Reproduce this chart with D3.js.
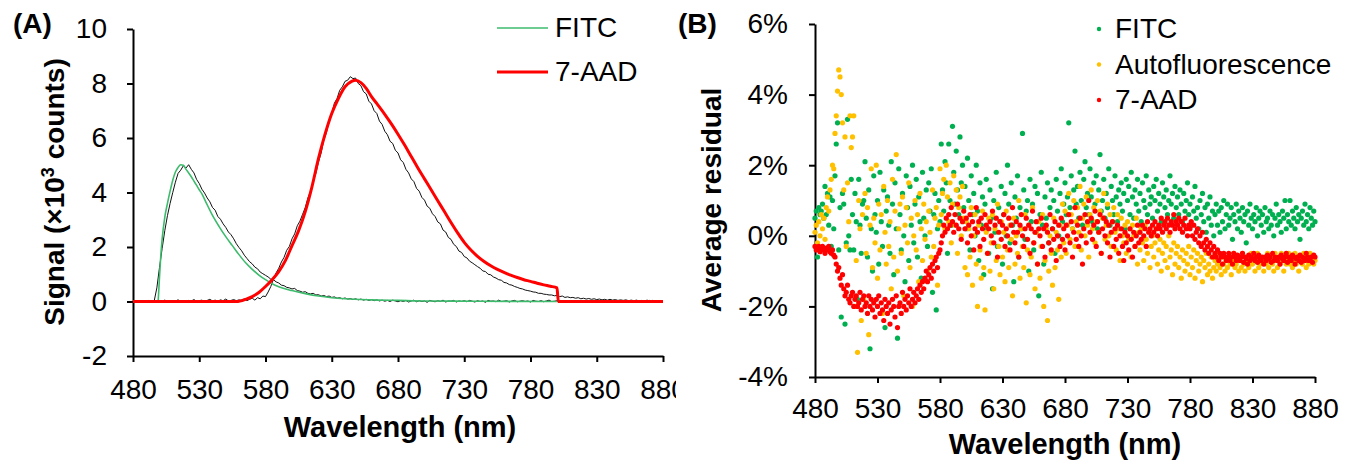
<!DOCTYPE html>
<html>
<head>
<meta charset="utf-8">
<script src="https://cdn.jsdelivr.net/npm/d3@7"></script>
<style>
  body { margin: 0; background: #fff; }
  text { font-family: "Liberation Sans", Arial, sans-serif; fill: #000; }
</style>
</head>
<body>
<div id="chart-area"></div>
<script>
// ---------- data, panel A (signal, x10^3 counts) ----------
// measured spectra, 2 nm steps from 480 to 880
let measStep = 2;
let fitcMeasured = [
  0.01, -0.02, 0.02, 0.0, -0.01, 0.03, -0.02, 0.01, 0.02, 0.5,
  1.25, 1.95, 2.6, 3.15, 3.6, 4.0, 4.38, 4.7, 4.82, 4.98,
  4.9, 5.02, 4.85, 4.72, 4.48, 4.33, 4.12, 3.98, 3.8, 3.66,
  3.45, 3.35, 3.12, 3.02, 2.85, 2.72, 2.55, 2.45, 2.3, 2.12,
  1.98, 1.86, 1.7, 1.58, 1.46, 1.38, 1.26, 1.2, 1.08, 1.02,
  0.96, 0.9, 0.82, 0.8, 0.72, 0.68, 0.6, 0.58, 0.52, 0.5,
  0.46, 0.48, 0.4, 0.38, 0.34, 0.36, 0.3, 0.28, 0.3, 0.24,
  0.25, 0.2, 0.22, 0.18, 0.2, 0.15, 0.17, 0.12, 0.14, 0.1,
  0.13, 0.09, 0.11, 0.07, 0.1, 0.06, 0.09, 0.05, 0.08, 0.04,
  0.07, 0.03, 0.06, 0.02, 0.05, 0.01, 0.04, 0.0, 0.05, 0.02,
  -0.01, 0.03, 0.0, 0.04, -0.02, 0.02, 0.05, -0.01, 0.03, 0.0,
  0.02, -0.03, 0.04, 0.01, -0.01, 0.03, 0.0, 0.05, -0.02, 0.02,
  0.01, 0.04, -0.02, 0.02, 0.0, 0.03, -0.01, 0.04, 0.01, -0.02,
  0.03, 0.0, 0.02, -0.03, 0.04, 0.01, 0.02, -0.01, 0.05, 0.0,
  0.01, 0.03, -0.02, 0.02, 0.04, -0.01, 0.01, 0.03, 0.0, 0.02,
  -0.02, 0.04, 0.01, 0.0, 0.03, -0.01, 0.02, 0.05, 0.0, 0.01,
  0.03, -0.01, 0.02, 0.04, 0.0, 0.02, -0.02, 0.03, 0.01, 0.0,
  0.02, 0.04, -0.01, 0.01, 0.03, 0.0, 0.02, -0.02, 0.04, 0.01,
  0.0, 0.03, 0.01, -0.01, 0.02, 0.04, 0.0, 0.02, -0.02, 0.03,
  0.01, 0.0, 0.03, -0.01, 0.02, 0.04, 0.01, 0.0, 0.02, -0.01,
  0.02
];
let aadMeasured = [
  0.02, 0.0, 0.03, 0.01, -0.01, 0.02, 0.04, 0.0, 0.01, 0.03,
  -0.01, 0.02, 0.05, 0.01, 0.03, 0.0, 0.02, 0.06, 0.01, 0.03,
  0.0, 0.04, 0.02, 0.07, 0.01, 0.03, 0.05, 0.0, 0.04, 0.08,
  0.02, 0.05, 0.01, 0.06, 0.03, 0.09, 0.02, 0.04, 0.07, 0.03,
  0.06, 0.04, 0.1, 0.03, 0.08, 0.12, 0.05, 0.14, 0.1, 0.2,
  0.18, 0.35, 0.55, 0.82, 1.05, 1.22, 1.45, 1.62, 1.88, 2.02,
  2.3, 2.48, 2.78, 2.95, 3.2, 3.45, 3.8, 4.05, 4.4, 4.7,
  5.12, 5.45, 5.92, 6.2, 6.62, 6.9, 7.28, 7.45, 7.75, 7.88,
  8.08, 8.12, 8.25, 8.18, 8.2, 8.0, 7.92, 7.7, 7.62, 7.35,
  7.25, 7.0, 6.9, 6.62, 6.5, 6.25, 6.12, 5.88, 5.8, 5.55,
  5.45, 5.2, 5.1, 4.85, 4.72, 4.5, 4.4, 4.15, 4.05, 3.82,
  3.72, 3.5, 3.42, 3.22, 3.12, 2.92, 2.85, 2.62, 2.55, 2.35,
  2.28, 2.1, 2.02, 1.85, 1.8, 1.65, 1.6, 1.48, 1.42, 1.35,
  1.28, 1.22, 1.12, 1.1, 1.0, 0.98, 0.9, 0.86, 0.8, 0.78,
  0.7, 0.68, 0.62, 0.6, 0.55, 0.52, 0.48, 0.46, 0.42, 0.4,
  0.38, 0.35, 0.34, 0.3, 0.3, 0.27, 0.26, 0.24, 0.24, 0.21,
  0.22, 0.18, 0.2, 0.15, 0.17, 0.14, 0.15, 0.12, 0.14, 0.1,
  0.12, 0.09, 0.11, 0.08, 0.1, 0.07, 0.09, 0.06, 0.08, 0.05,
  0.08, 0.05, 0.07, 0.04, 0.06, 0.04, 0.06, 0.03, 0.05, 0.03,
  0.05, 0.02, 0.04, 0.02, 0.05, 0.01, 0.04, 0.02, 0.03, 0.01,
  0.03
];

// fitted reference spectra
let fitcFitWl = [499, 500, 501, 502, 504, 506, 508, 510, 512, 514, 516, 518,
  520, 522, 524, 526, 528, 530, 532, 535, 540, 545, 550, 555, 560, 565, 570,
  575, 580, 585, 590, 600, 610, 620, 630, 640, 660, 680, 700, 740, 800];
let fitcFitVal = [0, 0.9, 1.7, 2.3, 3.1, 3.6, 4.05, 4.45, 4.75, 4.92, 5.02, 5.0,
  4.85, 4.72, 4.58, 4.42, 4.26, 4.1, 3.95, 3.65, 3.16, 2.75, 2.38, 2.05, 1.72, 1.42, 1.18,
  0.97, 0.8, 0.65, 0.54, 0.4, 0.29, 0.2, 0.14, 0.1, 0.06, 0.04, 0.02, 0.01, 0.0];
let aadFitWl = [480, 558, 565, 570, 575, 580, 585, 590, 595, 600, 605, 610, 615,
  620, 625, 630, 635, 640, 645, 648, 652, 656, 660, 665, 670, 675, 680, 685, 690,
  695, 700, 705, 710, 715, 720, 725, 730, 735, 740, 745, 750, 755, 760, 765, 770,
  775, 780, 785, 790, 795, 800, 801, 880];
let aadFitVal = [0, 0, 0.08, 0.18, 0.33, 0.55, 0.8, 1.1, 1.5, 2.05, 2.6, 3.3, 4.2,
  5.25, 6.15, 6.9, 7.45, 7.88, 8.08, 8.12, 8.03, 7.82, 7.52, 7.2, 6.87, 6.52, 6.14, 5.74, 5.32,
  4.9, 4.5, 4.1, 3.7, 3.3, 2.9, 2.52, 2.17, 1.89, 1.66, 1.47, 1.31, 1.18, 1.07, 0.97, 0.88,
  0.8, 0.74, 0.67, 0.61, 0.56, 0.5, 0, 0];

// ---------- data, panel B (average residual, %) ----------
// one value per nm from 480 to 880
let residFitc = [
  0.5, 0.7, -0.6, 0.8, 0.6, 0.7, 0.9, 0.5, 1.4, 0.6,
  1.2, 0.3, 1.1, -0.3, 1.0, 0.2, 1.7, 2.6, 3.2, -0.4,
  0.8, -2.3, 1.2, 0.9, -2.5, -0.2, 3.3, 0.0, -0.4, 1.6,
  0.6, -0.4, 1.2, 0.4, -1.8, 1.6, 0.3, -0.5, 0.9, 1.0,
  2.1, 0.5, -0.6, 1.3, -3.2, 0.2, -1.0, 1.7, 0.6, 0.1,
  1.0, -0.8, 1.8, 0.4, -0.3, 1.3, -2.6, 0.7, 1.1, 0.3,
  -0.5, 2.1, 0.9, -1.1, 1.5, 0.2, -2.9, 1.9, 0.6, -0.4,
  1.2, 0.0, -1.3, 1.7, 0.8, -0.7, 1.4, 0.3, 2.0, -0.2,
  0.9, 1.6, -0.6, 1.1, 0.4, -1.2, 1.8, 0.5, 0.0, 1.3,
  -0.3, 1.5, 0.7, 1.9, -1.6, 0.6, 1.2, -2.1, 0.2, 1.0,
  0.4, 2.6, 1.3, 0.7, 2.1, 1.5, -0.5, 2.6, 1.0, 0.3,
  3.1, 1.8, 0.9, 2.4, 1.3, 0.6, 2.8, 1.5, 2.0, 0.8,
  1.4, 0.2, 2.2, 1.0, -0.4, 1.7, 0.6, 1.2, 0.0, 2.0,
  0.7, -0.7, 1.5, 0.3, 1.1, -1.1, 0.9, 1.6, 0.2, -0.5,
  1.3, 0.5, -1.5, 1.0, 0.1, 1.8, -0.3, 0.8, 0.4, 1.4,
  -0.8, 0.6, 1.2, 0.0, 2.0, 0.9, -0.2, 1.5, 0.3, -1.3,
  1.1, 0.5, 1.7, -0.6, 0.8, 0.2, 2.9, 1.3, -0.1, 0.7,
  1.0, -1.0, 1.6, 0.4, 0.9, -0.4, 1.4, 0.1, 1.2, -1.7,
  0.6, 1.8, 0.3, -0.8, 1.1, 0.5, 1.5, -0.2, 0.8, 1.3,
  0.2, 1.0, -0.5, 1.6, 0.7, 0.0, 1.2, 1.9, 0.4, 0.9,
  1.5, 0.6, 1.1, 3.2, 0.8, 1.7, 0.2, 1.3, 2.4, 0.9,
  1.4, 0.5, 1.8, 1.0, 0.3, 1.6, 2.1, 0.8, 1.2, 0.6,
  1.9, 1.1, 0.4, 1.5, 0.9, 1.7, 0.2, 1.3, 2.3, 0.7,
  1.0, 1.6, 0.5, 1.2, 0.8, 1.9, 0.3, 1.4, 1.0, 0.6,
  1.7, 1.1, 0.4, 1.3, 0.9, 1.5, 0.7, 1.2, 0.2, 1.6,
  1.0, 1.4, 0.6, 1.8, 1.1, 0.5, 1.3, 0.9, 1.6, 0.7,
  1.2, 0.4, 1.5, 1.0, 0.8, 1.7, 0.6, 1.3, 0.9, 1.1,
  0.5, 1.4, 1.0, 1.6, 0.7, 1.2, 0.9, 0.4, 1.5, 1.1,
  0.8, 1.3, 0.6, 1.0, 1.7, 0.9, 1.2, 0.5, 1.4, 0.8,
  1.1, 0.6, 1.3, 0.9, 0.4, 1.2, 0.7, 1.0, 1.5, 0.6,
  0.9, 0.3, 1.1, 0.7, 1.4, 0.5, 0.8, 0.2, 1.0, 0.6,
  1.2, 0.4, 0.8, 0.1, 0.9, 0.5, 1.1, 0.3, 0.7, 0.0,
  0.6, 0.9, 0.3, 0.7, 0.1, 0.8, 0.4, 1.0, 0.2, 0.6,
  0.9, 0.3, 0.5, 0.8, -0.1, 0.6, 0.4, 0.9, 0.2, 0.7,
  0.5, 0.1, 0.8, 0.4, 0.6, -0.2, 0.7, 0.3, 0.9, 0.5,
  0.2, 0.6, 0.4, 0.8, 0.0, 0.5, 0.7, 0.3, 0.6, 0.1,
  0.8, 0.4, 0.5, 0.2, 0.7, 0.3, 0.6, 0.0, 0.5, 0.9,
  0.3, 0.6, 0.4, 0.1, 0.7, 0.5, 1.0, 0.2, 0.6, 0.4,
  1.0, 0.3, 0.7, 0.5, 0.2, 0.8, 0.4, 0.6, -0.1, 0.5,
  0.7, 0.3, 0.9, 0.4, 0.6, 0.2, 0.8, 0.5, 0.3, 0.7,
  0.4
];
let residAuto = [
  0.1, 0.3, -0.2, 0.4, 0.0, 0.6, 0.2, 0.5, -0.1, 0.8,
  1.1, 0.7, 1.3, 1.6, 2.0, 1.9, 2.9, 3.4, 4.1, 4.7,
  4.5, 4.0, 3.2, 1.3, 2.8, -0.3, 1.5, 0.4, 3.4, 2.5,
  2.8, 3.4, -2.0, -0.7, -3.3, 1.0, 0.2, -2.4, 0.6, -1.8,
  1.2, -0.5, 0.8, -2.8, 0.3, 1.9, -0.9, 0.5, -0.2, 2.0,
  -1.2, 0.9, -0.4, 0.6, -2.2, 1.4, 0.1, -0.8, 1.0, -0.3,
  0.4, -1.5, 1.6, -0.6, 0.7, 2.3, -1.0, 0.2, 0.9, -0.5,
  1.1, -1.7, 0.3, 0.8, -0.2, 1.5, -0.9, 0.5, -2.0, 0.0,
  1.0, -0.4, 0.6, -1.3, 1.2, 0.2, -0.7, 0.9, -0.1, 0.4,
  -1.0, 0.7, 0.1, -0.6, 1.3, -0.3, 0.5, 0.8, -1.4, 0.3,
  1.9, 0.6, 1.2, 1.6, 0.2, 2.0, 1.1, 0.4, 1.5, -0.2,
  0.9, 1.7, 0.3, 1.3, -0.5, 0.8, 1.1, 0.0, 1.4, 0.5,
  -0.9, 0.4, -1.1, 0.2, -0.6, 0.8, -1.4, 0.0, 0.6, -0.8,
  -2.0, 0.3, -0.4, -1.2, 0.7, -0.9, -2.1, 0.1, -0.5, 0.5,
  -1.0, -0.2, 0.6, -1.5, 0.2, -0.7, 0.9, -0.3, -1.1, 0.4,
  -0.6, 0.1, -1.3, 0.7, -0.4, -0.9, 0.3, -0.1, -1.7, 0.5,
  -0.8, 0.0, -0.5, 1.0, -1.2, 0.2, -0.3, -0.9, 0.6, -1.9,
  -0.4, 0.3, -1.1, -0.6, 0.8, -0.2, -1.5, 0.1, -0.8, 0.4,
  -1.2, -0.3, 0.6, -2.0, -0.7, 0.2, -2.4, -1.0, 0.0, -0.5,
  -1.4, 0.5, -0.9, 0.1, -0.4, -1.8, 0.3, -0.6, 0.9, -0.2,
  0.7, -0.5, 0.3, 1.2, -0.1, 0.6, 0.2, 1.0, -0.3, 0.4,
  0.8, 0.1, 1.4, -0.4, 0.5, 0.9, 0.0, 1.1, 0.3, -0.6,
  0.6, 1.3, 0.2, 0.8, -0.2, 0.4, 1.0, 0.1, 0.7, -0.5,
  0.5, 1.2, -0.1, 0.3, 0.9, 0.0, 0.6, -0.3, 0.4, 0.8,
  0.1, -0.4, 0.6, 0.2, -0.7, 0.5, 0.0, -0.2, 0.3, -0.5,
  0.4, -0.1, 0.2, -0.6, 0.3, 0.0, -0.3, 0.5, -0.8, 0.1,
  -0.4, 0.2, -0.2, -0.7, 0.3, -0.1, -0.5, 0.1, -0.9, -0.3,
  0.0, -0.6, -0.2, 0.2, -0.8, -0.4, -0.1, -1.0, -0.5, -0.2,
  -0.7, -0.3, -0.9, 0.0, -0.6, -0.4, -1.1, -0.2, -0.8, -0.5,
  -0.3, -0.9, -0.6, -1.2, -0.4, -0.7, -1.0, -0.5, -0.8, -0.3,
  -1.1, -0.6, -0.9, -0.4, -1.2, -0.7, -0.5, -1.0, -0.8, -0.6,
  -1.3, -0.7, -0.9, -0.5, -1.1, -0.8, -1.0, -0.6, -1.2, -0.9,
  -0.7, -1.0, -0.8, -0.5, -0.9, -1.1, -0.6, -0.8, -1.0, -0.7,
  -0.9, -0.6, -0.8, -1.1, -0.7, -0.5, -0.9, -0.8, -0.6, -1.0,
  -0.7, -0.9, -0.5, -0.8, -1.0, -0.6, -0.7, -0.9, -0.8, -0.5,
  -0.8, -0.6, -1.0, -0.7, -0.5, -0.9, -0.8, -0.6, -0.7, -1.0,
  -0.6, -0.8, -0.5, -0.9, -0.7, -0.6, -0.8, -1.0, -0.5, -0.7,
  -0.9, -0.6, -0.8, -0.5, -0.7, -1.0, -0.6, -0.8, -0.7, -0.5,
  -0.8, -0.6, -0.9, -0.7, -0.5, -0.8, -0.6, -1.0, -0.7, -0.6,
  -0.8, -0.5, -0.7, -0.9, -0.6, -0.8, -0.5, -0.7, -0.6, -0.8,
  -0.7
];
let residAad = [
  -0.3, -0.4, -0.35, -0.3, -0.45, -0.35, -0.3, -0.4, -0.5, -0.35,
  -0.4, -0.3, -0.45, -0.5, -0.4, -0.55, -0.6, -0.8, -1.0, -0.9,
  -1.2, -1.4, -1.1, -1.5, -1.7, -1.6, -1.4, -1.8, -1.9, -1.7,
  -1.6, -2.0, -1.8, -1.7, -2.0, -1.9, -1.6, -2.1, -1.8, -1.7,
  -2.0, -1.9, -2.2, -1.7, -2.0, -1.8, -2.1, -1.9, -2.3, -1.8,
  -2.0, -1.7, -2.2, -1.9, -2.1, -2.4, -1.8, -2.0, -2.2, -1.9,
  -2.5, -2.1, -1.8, -2.0, -2.3, -1.7, -2.6, -2.0, -1.9, -2.2,
  -1.6, -2.0, -1.8, -2.1, -1.7, -1.9, -1.5, -2.0, -1.8, -1.6,
  -1.9, -1.7, -1.5, -1.8, -1.4, -1.6, -1.3, -1.5, -1.2, -1.0,
  -1.3, -1.1, -0.9, -1.2, -0.8, -1.0, -0.7, -0.6, -0.9, -0.5,
  -0.4, -0.2, 0.0, 0.3, 0.1, 0.5, 0.2, 0.6, 0.3, 0.8,
  0.4, 0.1, 0.6, 0.3, 0.9, 0.2, 0.5, -0.1, 0.4, 0.7,
  0.2, 0.5, -0.2, 0.3, 0.6, 0.0, 0.4, -0.4, 0.2, 0.8,
  0.1, 0.4, -0.3, 0.5, 0.2, -0.1, 0.6, 0.3, -0.5, 0.2,
  0.4, 0.0, 0.7, -0.2, 0.3, 0.5, -0.6, 0.1, 0.4, -0.1,
  0.3, 0.6, -0.3, 0.2, 0.0, 0.5, -0.4, 0.3, 0.8, 0.1,
  -0.2, 0.4, 0.1, -0.6, 0.3, 0.6, 0.0, -0.3, 0.2, 0.5,
  -0.1, 0.3, -0.5, 0.2, 0.7, -0.2, 0.1, 0.4, -0.8, 0.2,
  0.0, 0.5, -0.3, 0.2, -0.6, 0.3, 0.1, -0.2, 0.6, -0.4,
  0.2, -0.1, 0.4, -0.7, 0.0, 0.3, -0.3, 0.5, -0.1, 0.2,
  -0.4, 0.3, 0.0, 0.6, -0.2, 0.4, -0.6, 0.1, 0.8, -0.1,
  0.3, -0.3, 0.5, 0.0, -0.8, 0.2, 0.6, -0.2, 0.4, 1.0,
  0.1, 0.5, -0.1, 0.3, 0.7, -0.3, 0.4, 0.1, 0.6, -0.5,
  0.2, 0.5, 0.0, 0.4, -0.2, 0.3, -0.6, 0.1, 0.4, -0.3,
  0.2, -0.1, 0.3, -0.5, 0.0, 0.2, -0.3, -0.7, 0.1, -0.2,
  0.0, -0.4, 0.2, -0.1, -0.6, 0.1, -0.3, 0.0, 0.3, -0.2,
  0.1, -0.1, 0.3, 0.0, 0.2, -0.3, 0.4, 0.1, 0.2, 0.0,
  0.3, 0.1, 0.4, 0.2, 0.0, 0.3, 0.2, 0.5, 0.1, 0.3,
  0.4, 0.2, 0.5, 0.3, 0.1, 0.4, 0.3, 0.6, 0.2, 0.4,
  0.3, 0.5, 0.2, 0.4, 0.1, 0.3, 0.5, 0.2, 0.0, 0.3,
  0.2, 0.4, 0.0, 0.3, -0.1, 0.1, 0.2, -0.2, 0.0, -0.3,
  0.1, -0.2, -0.4, -0.1, -0.3, -0.5, -0.2, -0.4, -0.6, -0.3,
  -0.5, -0.6, -0.4, -0.7, -0.5, -0.6, -0.8, -0.5, -0.6, -0.7,
  -0.6, -0.5, -0.7, -0.6, -0.8, -0.5, -0.6, -0.7, -0.55, -0.65,
  -0.7, -0.6, -0.5, -0.75, -0.6, -0.65, -0.8, -0.55, -0.7, -0.6,
  -0.65, -0.5, -0.7, -0.6, -0.75, -0.55, -0.65, -0.7, -0.6, -0.8,
  -0.6, -0.7, -0.55, -0.65, -0.6, -0.75, -0.5, -0.7, -0.6, -0.65,
  -0.7, -0.6, -0.8, -0.55, -0.65, -0.7, -0.6, -0.5, -0.75, -0.6,
  -0.65, -0.7, -0.55, -0.6, -0.8, -0.65, -0.6, -0.7, -0.55, -0.75,
  -0.6, -0.65, -0.7, -0.5, -0.6, -0.7, -0.65, -0.6, -0.75, -0.55,
  -0.6
];

// axis ticks and labels
let xTicks = [480, 530, 580, 630, 680, 730, 780, 830, 880];
let yTicksA = [-2, 0, 2, 4, 6, 8, 10];
let yTicksB = [-4, -2, 0, 2, 4, 6];
let legendA = ["FITC", "7-AAD"];
let legendB = ["FITC", "Autofluorescence", "7-AAD"];

// colours
let colFitcLine = "#3dbb6c";
let colFitc = "#00b050";
let colAuto = "#ffc000";
let colAad = "#ff0000";

// ---------- svg ----------
let svg = d3.select("#chart-area").append("svg")
    .attr("width", 1355)
    .attr("height", 464);

// panel A is cropped on its right side like in the figure
svg.append("clipPath").attr("id", "clipA")
    .append("rect").attr("x", 0).attr("y", 0).attr("width", 676).attr("height", 464);

let panelA = svg.append("g").attr("clip-path", "url(#clipA)");

// scales for panel A
let xA = d3.scaleLinear().domain([480, 880]).range([133, 663]);
let yA = d3.scaleLinear().domain([-2, 10]).range([356, 29]);

// plain hyphen for negatives, like the original
let fmtA = d => String(d);
let fmtB = d => d + "%";

// axes for panel A
panelA.append("g")
    .attr("transform", "translate(0,356)")
    .call(d3.axisBottom(xA).tickValues(xTicks).tickSize(6).tickSizeOuter(0).tickPadding(17))
    .call(g => styleAxis(g));

panelA.append("g")
    .attr("transform", "translate(133,0)")
    .call(d3.axisLeft(yA).tickValues(yTicksA).tickSize(6).tickSizeOuter(0).tickPadding(20)
        .tickFormat(fmtA))
    .call(g => styleAxis(g));

function styleAxis(g) {
    g.select(".domain").attr("stroke", "#000").attr("stroke-width", 2);
    g.selectAll(".tick line").attr("stroke", "#000").attr("stroke-width", 2);
    g.selectAll(".tick text").attr("font-size", 28).attr("fill", "#000")
        .attr("font-family", "Liberation Sans, Arial, sans-serif");
}

// line generators
let lineA = d3.line()
    .x(d => xA(d.wl))
    .y(d => yA(d.v));

let fitcMeasData = fitcMeasured.map((v, i) => ({wl: 480 + i * measStep, v: v}));
let aadMeasData = aadMeasured.map((v, i) => ({wl: 480 + i * measStep, v: v}));
let fitcFitData = fitcFitWl.map((w, i) => ({wl: w, v: fitcFitVal[i]}));
let aadFitData = aadFitWl.map((w, i) => ({wl: w, v: aadFitVal[i]}));

// measured spectra (black)
panelA.selectAll(".meas")
    .data([fitcMeasData, aadMeasData])
    .enter().append("path")
    .attr("class", "meas")
    .attr("d", d => lineA(d))
    .style("fill", "none")
    .style("stroke", "#111")
    .style("stroke-width", 1);

// fits
panelA.append("path")
    .attr("d", lineA.curve(d3.curveMonotoneX)(fitcFitData))
    .style("fill", "none")
    .style("stroke", colFitcLine)
    .style("stroke-width", 1.6);

panelA.append("path")
    .attr("d", lineA.curve(d3.curveMonotoneX)(aadFitData))
    .style("fill", "none")
    .style("stroke", colAad)
    .style("stroke-width", 3);

// legend A
let legA = panelA.selectAll(".legA")
    .data(legendA)
    .enter().append("g")
    .attr("class", "legA")
    .attr("transform", (d, i) => "translate(497," + (28 + i * 44) + ")");

legA.append("line")
    .attr("x1", 0).attr("x2", 51)
    .style("stroke", (d, i) => i === 0 ? colFitcLine : colAad)
    .style("stroke-width", (d, i) => i === 0 ? 1.6 : 3);

legA.append("text")
    .attr("x", 58).attr("y", 9)
    .attr("font-size", 28)
    .text(d => d);

// titles A
panelA.append("text")
    .attr("x", 13).attr("y", 33)
    .attr("font-size", 28).attr("font-weight", "bold")
    .text("(A)");

panelA.append("text")
    .attr("x", 400).attr("y", 437)
    .attr("text-anchor", "middle")
    .attr("font-size", 29).attr("font-weight", "bold")
    .text("Wavelength (nm)");

let yTitleA = panelA.append("text")
    .attr("transform", "translate(64,192) rotate(-90)")
    .attr("text-anchor", "middle")
    .attr("font-size", 28).attr("font-weight", "bold");
yTitleA.append("tspan").text("Signal (×10");
yTitleA.append("tspan").attr("font-size", 18).attr("dy", -10).text("3");
yTitleA.append("tspan").attr("dy", 10).text(" counts)");

// ---------- panel B ----------
let panelB = svg.append("g");

let xB = d3.scaleLinear().domain([480, 880]).range([815, 1315]);
let yB = d3.scaleLinear().domain([-4, 6]).range([377, 24]);

panelB.append("g")
    .attr("transform", "translate(0,377)")
    .call(d3.axisBottom(xB).tickValues(xTicks).tickSize(6).tickSizeOuter(0).tickPadding(15))
    .call(g => styleAxis(g));

panelB.append("g")
    .attr("transform", "translate(815,0)")
    .call(d3.axisLeft(yB).tickValues(yTicksB).tickSize(6).tickSizeOuter(0).tickPadding(21)
        .tickFormat(fmtB))
    .call(g => styleAxis(g));

// scatter series, FITC first so 7-AAD ends on top
let seriesB = [
    {name: "FITC", values: residFitc, color: colFitc},
    {name: "Autofluorescence", values: residAuto, color: colAuto},
    {name: "7-AAD", values: residAad, color: colAad}
];

let groupsB = panelB.selectAll(".series-b")
    .data(seriesB)
    .enter().append("g")
    .attr("class", "series-b")
    .style("fill", d => d.color);

groupsB.selectAll("circle")
    .data(d => d.values.map((v, i) => ({wl: 480 + i, v: v})))
    .enter().append("circle")
    .attr("cx", d => xB(d.wl))
    .attr("cy", d => yB(d.v))
    .attr("r", 2.6);

// legend B
let legB = panelB.selectAll(".legB")
    .data(legendB)
    .enter().append("g")
    .attr("class", "legB")
    .attr("transform", (d, i) => "translate(1099," + (29 + i * 35.5) + ")");

legB.append("circle")
    .attr("r", 2.2)
    .style("fill", (d, i) => seriesB[i].color);

legB.append("text")
    .attr("x", 16).attr("y", 9)
    .attr("font-size", 28)
    .text(d => d);

// titles B
panelB.append("text")
    .attr("x", 678).attr("y", 33)
    .attr("font-size", 28).attr("font-weight", "bold")
    .text("(B)");

panelB.append("text")
    .attr("x", 1065).attr("y", 454)
    .attr("text-anchor", "middle")
    .attr("font-size", 29).attr("font-weight", "bold")
    .text("Wavelength (nm)");

panelB.append("text")
    .attr("transform", "translate(721,200) rotate(-90)")
    .attr("text-anchor", "middle")
    .attr("font-size", 28).attr("font-weight", "bold")
    .text("Average residual");
</script>
</body>
</html>
